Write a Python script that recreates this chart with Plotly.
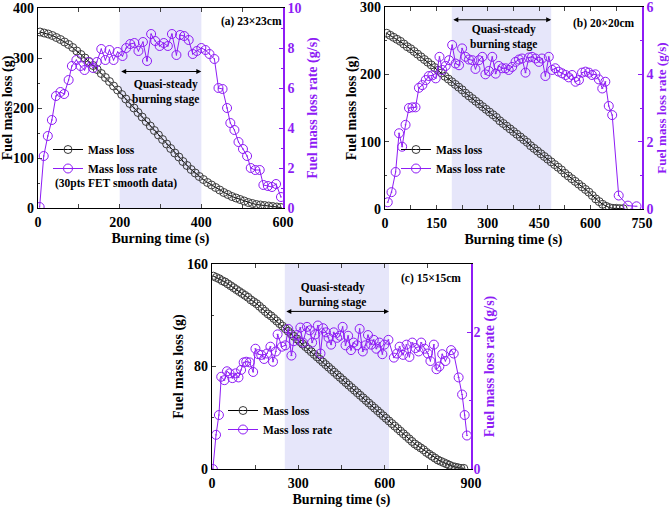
import plotly.graph_objects as go

# ---------------- data: panel (a) 23x23cm ----------------
t_mass_a = [5, 15, 25, 35, 45, 55, 65, 75, 85, 95, 105, 115, 125, 135, 145, 155, 165, 175, 185, 195,
            205, 215, 225, 235, 245, 255, 265, 275, 285, 295, 305, 315, 325, 335, 345, 355, 365, 375, 385, 395,
            405, 415, 425, 435, 445, 455, 465, 475, 485, 495, 505, 515, 525, 535, 545, 555, 565, 575, 585, 595]
mass_a = [352, 350, 348, 345, 341, 337, 332, 327, 321, 314, 307, 300, 293, 285, 277, 269, 261, 253, 244, 236,
          227, 218, 209, 200, 191, 182, 173, 164, 155, 146, 137, 128, 119, 110, 102, 93, 85, 77, 70, 63,
          57, 51, 46, 41, 36, 31, 27, 23, 20, 17, 14, 11, 9, 7, 6, 5, 4, 3, 2, 1]
t_rate_a = [4, 14, 24, 34, 44, 55, 64, 75, 83, 94, 104, 114, 124, 135, 144, 155, 165, 175, 185, 195,
            207, 216, 226, 236, 246, 257, 267, 277, 287, 298, 308, 318, 328, 339, 348, 358, 369, 379, 389, 400,
            410, 420, 432, 442, 452, 463, 471, 481, 491, 502, 512, 521, 532, 543, 552, 563, 573, 583, 595]
rate_a = [0.05, 2.6, 3.6, 4.4, 5.6, 5.8, 5.7, 6.4, 7.1, 7.4, 7.1, 6.9, 7.3, 7.0, 7.3, 7.95, 7.4, 7.9, 7.4, 7.8,
          7.6, 8.0, 8.2, 8.25, 7.85, 8.3, 7.35, 8.7, 8.35, 8.1, 8.25, 8.1, 8.7, 7.65, 8.65, 8.6, 8.4, 7.7, 7.85, 8.0,
          7.9, 7.7, 7.45, 6.0, 5.95, 5.0, 4.25, 3.9, 3.3, 2.95, 2.6, 2.0, 1.9, 1.9, 1.15, 1.1, 1.05, 1.2, 0.55]

# ---------------- data: panel (b) 20x20cm ----------------
t_mass_b = [5, 15, 25, 35, 45, 55, 65, 75, 85, 95, 105, 115, 125, 135, 145, 155, 165, 175, 185, 195,
            205, 215, 225, 235, 245, 255, 265, 275, 285, 295, 305, 315, 325, 335, 345, 355, 365, 375, 385, 395,
            405, 415, 425, 435, 445, 455, 465, 475, 485, 495, 505, 515, 525, 535, 545, 555, 565, 575, 585, 595,
            605, 615, 625, 635, 645, 655, 665, 675, 685, 695]
mass_b = [261, 258, 255, 252, 249, 245, 241, 238, 234, 230, 226, 222, 218, 214, 210, 206, 202, 197, 193, 189,
          185, 181, 177, 172, 168, 164, 160, 156, 152, 148, 144, 140, 136, 131, 127, 123, 119, 115, 111, 107,
          103, 99, 94, 90, 86, 82, 78, 74, 70, 66, 62, 58, 53, 49, 45, 41, 37, 33, 29, 25,
          20, 15, 11, 7, 4, 2, 1, 1, 0.5, 0.5]
t_rate_b = [8, 19, 31, 41, 50, 60, 70, 80, 89, 99, 109, 119, 128, 138, 148, 159, 167, 177, 187, 196,
            206, 216, 225, 235, 245, 255, 264, 274, 284, 293, 303, 313, 323, 332, 342, 352, 361, 371, 381, 391,
            400, 410, 420, 429, 439, 449, 458, 468, 478, 488, 497, 507, 517, 527, 536, 546, 556, 566, 575, 585,
            595, 604, 614, 624, 634, 643, 653, 663, 682, 709, 734]
rate_b = [0.2, 0.5, 1.1, 2.25, 1.85, 2.5, 3.0, 3.02, 3.02, 3.6, 3.68, 3.83, 3.95, 3.97, 3.88, 4.52, 4.13, 4.25, 4.42, 4.87,
          4.32, 4.27, 4.77, 4.52, 4.44, 4.42, 4.16, 4.42, 4.52, 4.0, 4.1, 4.52, 4.02, 4.25, 4.18, 4.18, 4.13, 4.22, 4.37, 4.44,
          4.47, 4.05, 4.5, 4.52, 4.47, 4.37, 4.47, 3.95, 4.52, 4.13, 4.18, 4.08, 4.03, 3.98, 3.91, 3.98, 3.78, 3.83, 4.05, 4.08,
          4.05, 3.98, 4.0, 3.85, 3.58, 3.78, 3.06, 2.79, 0.4, 0.1, 0.08]

# ---------------- data: panel (c) 15x15cm ----------------
t_mass_c = [5, 15, 25, 35, 45, 55, 65, 75, 85, 95, 105, 115, 125, 135, 145, 155, 165, 175, 185, 195,
            205, 215, 225, 235, 245, 255, 265, 275, 285, 295, 305, 315, 325, 335, 345, 355, 365, 375, 385, 395,
            405, 415, 425, 435, 445, 455, 465, 475, 485, 495, 505, 515, 525, 535, 545, 555, 565, 575, 585, 595,
            605, 615, 625, 635, 645, 655, 665, 675, 685, 695, 705, 715, 725, 735, 745, 755, 765, 775, 785, 795,
            805, 815, 825, 835, 845, 855, 865, 875]
mass_c = [150.5, 149.5, 148.5, 147, 146, 144.5, 143, 141.5, 140, 138.5, 137, 135.5, 134, 132, 130.5, 129, 127, 125, 123, 121,
          119.5, 117.5, 115.5, 113.5, 111.5, 109.5, 107.5, 105.5, 103.5, 101.5, 99.5, 97.5, 95.5, 93.5, 91.5, 89.5, 87.5, 85.5, 83.5, 81.5,
          79.5, 77.5, 75.5, 73.5, 71.5, 69.5, 67.5, 65.5, 63.5, 61.5, 59.5, 57.5, 55.5, 53.5, 51.5, 49.5, 47.5, 45.5, 43.5, 41.5,
          39.5, 37.5, 35.5, 33.5, 31.5, 29.5, 27.5, 25.5, 23.5, 21.5, 19.5, 18, 16.5, 15, 13, 11.5, 10, 8.5, 7, 6,
          5, 4, 3, 2, 1.5, 1, 0.5, 0.5]
t_rate_c = [3, 14, 24, 32, 43, 52, 61, 71, 82, 92, 101, 110, 119, 131, 143, 151, 161, 171, 181, 191,
            203, 212, 222, 228, 243, 255, 265, 276, 284, 295, 307, 316, 330, 340, 348, 359, 368, 377, 386, 396,
            405, 414, 423, 435, 444, 454, 464, 473, 483, 492, 504, 513, 524, 533, 542, 553, 562, 571, 582, 592,
            599, 613, 632, 643, 652, 664, 676, 686, 696, 707, 718, 727, 739, 750, 759, 771, 780, 790, 800, 811,
            831, 840, 857, 869, 878, 886]
rate_c = [0.0, 0.5, 0.79, 1.35, 1.30, 1.43, 1.40, 1.33, 1.40, 1.34, 1.45, 1.56, 1.57, 1.56, 1.42, 1.76, 1.68, 1.67, 1.61, 1.69,
          1.79, 1.57, 1.72, 1.97, 1.79, 1.81, 2.05, 1.66, 1.87, 1.96, 2.07, 1.85, 2.08, 2.03, 1.85, 1.97, 2.10, 1.69, 2.06, 2.0,
          1.92, 1.82, 2.0, 1.92, 1.95, 2.08, 1.81, 1.95, 1.74, 1.85, 1.81, 2.05, 1.72, 1.81, 1.96, 1.82, 1.89, 1.76, 1.85, 1.68,
          1.82, 1.89, 1.63, 1.69, 1.79, 1.67, 1.82, 1.64, 1.85, 1.77, 1.72, 1.85, 1.76, 1.69, 1.58, 1.82, 1.46, 1.50, 1.68, 1.58,
          1.74, 1.69, 1.34, 1.09, 0.79, 0.49]

# ---------------- styling ----------------
PURPLE = "#8E1CF5"
GREY = "#3c3c3c"
FONT = "Liberation Serif, Times New Roman, serif"
W, H = 669, 511

fig = go.Figure()

panels = [
    dict(x="x", y="y", y2="y2", tm=t_mass_a, m=mass_a, tr=t_rate_a, r=rate_a, leg="legend"),
    dict(x="x2", y="y3", y2="y4", tm=t_mass_b, m=mass_b, tr=t_rate_b, r=rate_b, leg="legend2"),
    dict(x="x3", y="y5", y2="y6", tm=t_mass_c, m=mass_c, tr=t_rate_c, r=rate_c, leg="legend3"),
]
for p in panels:
    fig.add_trace(go.Scatter(
        x=p["tm"], y=p["m"], xaxis=p["x"], yaxis=p["y"], name="Mass loss", legend=p["leg"],
        mode="lines+markers", line=dict(color="black", width=1),
        marker=dict(symbol="circle-open-dot", size=8, color=GREY, line=dict(width=1, color=GREY))))
    fig.add_trace(go.Scatter(
        x=p["tr"], y=p["r"], xaxis=p["x"], yaxis=p["y2"], name="Mass loss rate", legend=p["leg"],
        mode="lines+markers", line=dict(color=PURPLE, width=1),
        marker=dict(symbol="circle-open-dot", size=9, color=PURPLE, line=dict(width=1, color=PURPLE))))


def px_dom_x(a, b):
    return [a / W, b / W]


def px_dom_y(top, bot):
    return [1 - bot / H, 1 - top / H]


tickfont = dict(family=FONT, size=14, color="black", weight="bold")
titlefont = dict(family=FONT, size=14, color="black", weight="bold")
ptickfont = dict(family=FONT, size=14, color=PURPLE, weight="bold")


def xax(dom, rng, dtick, anchor):
    return dict(domain=dom, range=rng, dtick=dtick, tick0=0, anchor=anchor, showgrid=False, zeroline=False,
                automargin=False, ticklabeloverflow="allow", ticklabelstandoff=1,
                showline=True, linecolor="black", linewidth=1.2, mirror="allticks", ticks="inside", ticklen=4,
                minor=dict(ticks="inside", ticklen=2, dtick=dtick / 2, tick0=0),
                tickfont=tickfont, title=dict(text="Burning time (s)", font=titlefont, standoff=4))


def yax(dom, rng, dtick, anchor):
    return dict(domain=dom, range=rng, dtick=dtick, tick0=0, anchor=anchor, showgrid=False, zeroline=False,
                automargin=False, ticklabeloverflow="allow",
                showline=True, linecolor="black", linewidth=1.2, ticks="inside", ticklen=4,
                minor=dict(ticks="inside", ticklen=2, dtick=dtick / 2, tick0=0),
                tickfont=tickfont, title=dict(text="Fuel mass loss (g)", font=titlefont, standoff=0))


def y2ax(rng, dtick, overlay, anchor, tsize=14, standoff=3, lstand=0):
    return dict(range=rng, dtick=dtick, tick0=0, overlaying=overlay, anchor=anchor, side="right",
                showgrid=False, zeroline=False, showline=True, linecolor=PURPLE, linewidth=1.5,
                automargin=False, ticklabeloverflow="allow", ticklabelstandoff=lstand,
                ticks="inside", ticklen=4, tickcolor=PURPLE,
                minor=dict(ticks="inside", ticklen=2, dtick=dtick / 2, tick0=0, tickcolor=PURPLE),
                tickfont=ptickfont,
                title=dict(text="Fuel mass loss rate (g/s)",
                           font=dict(family=FONT, size=tsize, color=PURPLE, weight="bold"), standoff=standoff))


dA = (px_dom_x(38, 283), px_dom_y(8, 208))
dB = (px_dom_x(385, 642), px_dom_y(7, 209))
dC = (px_dom_x(212, 471), px_dom_y(264, 469))

fig.update_layout(
    xaxis=xax(dA[0], [0, 600], 200, "y"),
    yaxis=yax(dA[1], [0, 400], 100, "x"),
    yaxis2=y2ax([0, 10], 2, "y", "x", standoff=7, lstand=0),
    xaxis2=xax(dB[0], [0, 750], 150, "y3"),
    yaxis3=yax(dB[1], [0, 300], 100, "x2"),
    yaxis4=y2ax([0, 6], 2, "y3", "x2", tsize=13, standoff=3, lstand=0),
    xaxis3=xax(dC[0], [0, 900], 300, "y5"),
    yaxis5=yax(dC[1], [0, 160], 80, "x3"),
    yaxis6=y2ax([0, 3], 2, "y5", "x3", standoff=5, lstand=-2),
)

# shaded quasi-steady regions
shade = [("x", "y", 200, 400), ("x2", "y3", 195, 485), ("x3", "y5", 253, 615)]
for xr, yr, x0, x1 in shade:
    fig.add_shape(type="rect", xref=xr, yref=yr + " domain", x0=x0, x1=x1, y0=0, y1=1,
                  fillcolor="rgba(200,200,245,0.45)", line=dict(width=0), layer="below")

annfont = dict(family=FONT, size=11.5, color="black", weight="bold")
# double arrows + text
arrows = [("x", "y", 200, 400, 273, 312, 233, "(a) 23×23cm", 524, 373),
          ("x2", "y3", 195, 485, 281, 345, 256, "(b) 20×20cm", 640, 276),
          ("x3", "y5", 253, 615, 123, 419, 136, "(c) 15×15cm", 761, 149)]
for xr, yr, x0, x1, ya, xt, yt, lab, xl, yl in arrows:
    fig.add_annotation(xref=xr, yref=yr, axref=xr, ayref=yr, x=x1, y=ya, ax=x0, ay=ya, text="",
                       showarrow=True, arrowhead=2, arrowside="end+start", arrowsize=1, arrowwidth=1,
                       arrowcolor="black")
    fig.add_annotation(xref=xr, yref=yr, x=xt, y=yt, text="Quasi-steady<br>burning stage", showarrow=False,
                       font=annfont, align="center")
    fig.add_annotation(xref=xr, yref=yr, x=xl, y=yl, text=lab, showarrow=False, font=annfont)

fig.add_annotation(xref="x", yref="y", x=190, y=50, text="(30pts FET smooth data)", showarrow=False,
                   font=annfont, xanchor="center")

legfont = dict(family=FONT, size=11.5, color="black", weight="bold")
leg = dict(bgcolor="rgba(0,0,0,0)", font=legfont, xanchor="left", yanchor="top", tracegroupgap=0,
           itemwidth=30)
fig.update_layout(
    legend=dict(leg, x=48 / W, y=1 - 135 / H),
    legend2=dict(leg, x=396 / W, y=1 - 135 / H),
    legend3=dict(leg, x=223 / W, y=1 - 396 / H),
    width=W, height=H, margin=dict(l=0, r=0, t=0, b=0, autoexpand=False),
    paper_bgcolor="white", plot_bgcolor="white", showlegend=True,
)

fig.write_html("out.html", config={"displayModeBar": False},
               post_script="document.body.style.margin='0';")
